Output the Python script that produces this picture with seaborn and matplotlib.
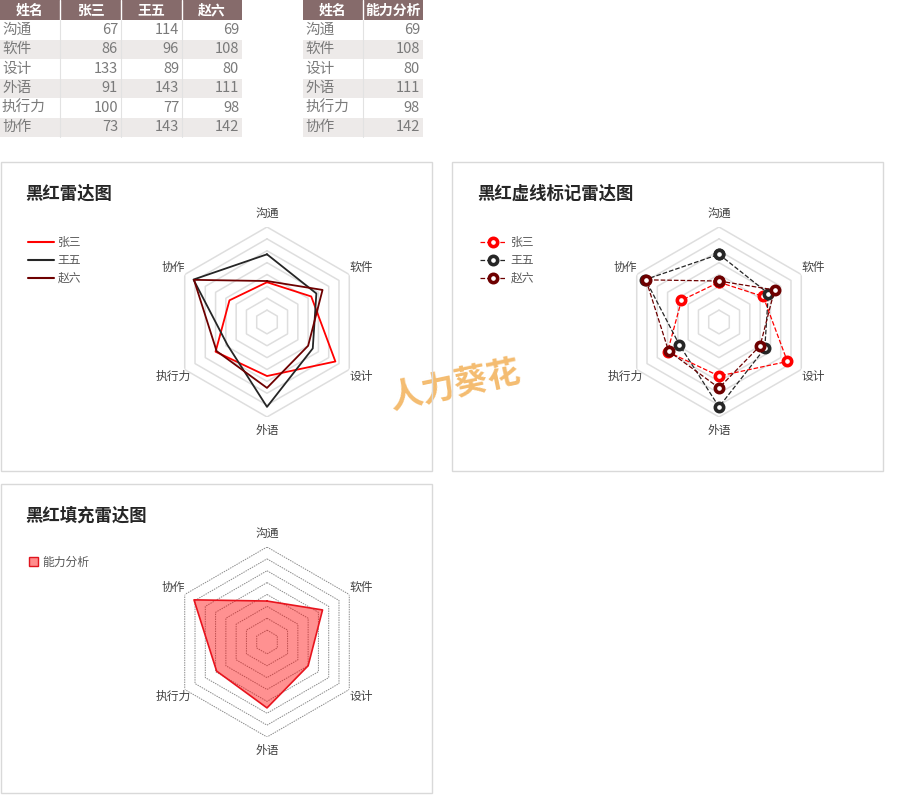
import numpy as np
import pandas as pd
import matplotlib.pyplot as plt
import seaborn as sns
from matplotlib.lines import Line2D
from matplotlib.patches import Rectangle, Patch

# --- data ---
categories = ['沟通', '软件', '设计', '外语', '执行力', '协作']
names = ['张三', '王五', '赵六']
zhang_san = [67, 86, 133, 91, 100, 73]
wang_wu = [114, 96, 89, 143, 77, 143]
zhao_liu = [69, 108, 80, 111, 98, 142]
ability_label = '能力分析'
ability = [69, 108, 80, 111, 98, 142]
ring_levels = [20, 40, 60, 80, 100, 120, 140, 160]

colors = ['#FF0000', '#262626', '#6E0000']

sns.set_theme(style='white')
plt.rcParams['font.family'] = ['Noto Sans CJK SC', 'DejaVu Sans']

W, H = 909, 800
fig = plt.figure(figsize=(W / 100, H / 100), dpi=100)
bg = fig.add_axes([0, 0, 1, 1])
bg.set_xlim(0, W)
bg.set_ylim(H, 0)
bg.axis('off')

theta = np.linspace(0, 2 * np.pi, len(categories), endpoint=False)
closed_theta = np.append(theta, 2 * np.pi)

# long table for seaborn, closing each polygon
rows = []
for name, vals in zip(names, [zhang_san, wang_wu, zhao_liu]):
    for t, v in zip(closed_theta, vals + vals[:1]):
        rows.append({'name': name, 'theta': t, 'value': v})
df = pd.DataFrame(rows)

# --- tables ---
HEAD_BG = '#866B6B'
ALT_BG = '#EDEAE9'
TXT = '#7A7A7A'


def draw_table(x0, widths, header, row_names, columns):
    xs = np.concatenate([[x0], x0 + np.cumsum(widths)])
    hh, rh = 20, 19.5
    bg.add_patch(Rectangle((x0, 0), xs[-1] - x0, hh, color=HEAD_BG, lw=0))
    for j, h in enumerate(header):
        bg.text((xs[j] + xs[j + 1]) / 2, hh / 2 + 0.5, h, ha='center', va='center',
                color='white', fontsize=10, fontweight='bold')
    for i, rn in enumerate(row_names):
        y = hh + i * rh
        if i % 2 == 1:
            bg.add_patch(Rectangle((x0, y), xs[-1] - x0, rh, color=ALT_BG, lw=0))
        bg.text(x0 + 2, y + rh / 2, rn, ha='left', va='center', color=TXT, fontsize=10.5)
        for j, col in enumerate(columns):
            bg.text(xs[j + 2] - 3, y + rh / 2, str(col[i]), ha='right', va='center',
                    color=TXT, fontsize=10.5)
    for x in xs[1:-1]:
        bg.plot([x, x], [0, hh], color='white', lw=1)
        bg.plot([x, x], [hh, hh + len(row_names) * rh], color='#E2E2E2', lw=0.8)


draw_table(0, [60, 61, 61, 60], ['姓名'] + names, categories, [zhang_san, wang_wu, zhao_liu])
draw_table(303, [60, 60], ['姓名', ability_label], categories, [ability])

# watermark (under the panel borders)
bg.text(455, 385, '人力葵花', fontsize=24, fontweight='bold',
        color='#F4BC70', rotation=12, ha='center', va='center', zorder=0.5)

# --- panels ---
for x, y in [(0.5, 162), (452, 162), (0.5, 484)]:
    bg.add_patch(Rectangle((x, y), 431, 309, fill=False, edgecolor='#D9D9D9', lw=1, zorder=1))

bg.text(25, 194, '黑红雷达图', fontsize=12.5, fontweight='bold', color='#262626', va='center')
bg.text(477, 194, '黑红虚线标记雷达图', fontsize=12.5, fontweight='bold', color='#262626', va='center')
bg.text(25, 516, '黑红填充雷达图', fontsize=12.5, fontweight='bold', color='#262626', va='center')


def radar_axes(cx, cy, R=95):
    ax = fig.add_axes([(cx - R) / W, 1 - (cy + R) / H, 2 * R / W, 2 * R / H], projection='polar')
    ax.set_theta_zero_location('N')
    ax.set_theta_direction(-1)
    ax.set_ylim(0, 160)
    ax.set_xticks([])
    ax.set_yticks([])
    ax.spines['polar'].set_visible(False)
    ax.patch.set_alpha(0)
    ax.grid(False)
    for t, c in zip(theta, categories):
        ax.text(t, 183, c, ha='center', va='center', fontsize=8.5, color='#404040')
    return ax


def draw_rings(ax, **kw):
    for lvl in ring_levels:
        ax.plot(closed_theta, [lvl] * len(closed_theta), zorder=1, **kw)


LEG = dict(loc='upper left', bbox_transform=fig.transFigure, frameon=False, fontsize=8.5,
           labelcolor='#595959', borderaxespad=0, borderpad=0)

# chart 1: plain lines
ax1 = radar_axes(267, 322)
sns.lineplot(data=df, x='theta', y='value', hue='name', palette=colors, sort=False,
             estimator=None, lw=1.3, legend=False, ax=ax1)
draw_rings(ax1, color='#DEDEDE', lw=1.1)
ax1.set_xlabel('')
ax1.set_ylabel('')
h1 = [Line2D([], [], color=c, lw=1.5) for c in colors]
ax1.legend(h1, names, bbox_to_anchor=(28 / W, 1 - 236 / H), handlelength=2.2,
           labelspacing=0.42, handletextpad=0.3, **LEG)

# chart 2: dashed lines with ring markers
ax2 = radar_axes(719, 322)
sns.lineplot(data=df, x='theta', y='value', hue='name', palette=colors, sort=False,
             estimator=None, lw=0.9, linestyle='--', marker='o', ms=6, mew=2.6,
             legend=False, ax=ax2)
for ln in ax2.lines:
    ln.set_markerfacecolor('white')
    ln.set_markeredgecolor(ln.get_color())
draw_rings(ax2, color='#DEDEDE', lw=1.1)
ax2.set_xlabel('')
ax2.set_ylabel('')
h2 = [Line2D([], [], color=c, lw=0.9, ls='--', marker='o', ms=6, mfc='white',
             mec=c, mew=2.6) for c in colors]
ax2.legend(h2, names, bbox_to_anchor=(480 / W, 1 - 236 / H), handlelength=2.2,
           labelspacing=0.42, handletextpad=0.4, numpoints=1, **LEG)

# chart 3: filled
ax3 = radar_axes(267, 642)
fill_df = pd.DataFrame({'theta': closed_theta, 'value': ability + ability[:1]})
draw_rings(ax3, color='#8A8A8A', lw=0.7, ls=(0, (1.5, 1)))
ax3.fill(fill_df['theta'], fill_df['value'], color='#FF0000', alpha=0.43, lw=0, zorder=2)
sns.lineplot(data=fill_df, x='theta', y='value', sort=False, estimator=None,
             color='#E8141E', lw=1.2, ax=ax3)
ax3.set_xlabel('')
ax3.set_ylabel('')
h3 = [Patch(facecolor=(1, 0, 0, 0.45), edgecolor='#E0141E', lw=1)]
ax3.legend(h3, [ability_label], bbox_to_anchor=(29 / W, 1 - 556 / H),
           handlelength=0.8, handleheight=0.8, handletextpad=0.3, **LEG)

fig.savefig('out.png', dpi=100)
